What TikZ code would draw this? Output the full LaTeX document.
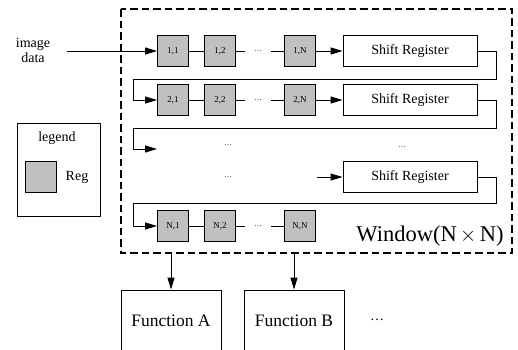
\documentclass[tikz,border=0pt]{standalone}
\usepackage{fontspec}
\setmainfont{Liberation Serif}
\usetikzlibrary{arrows.meta}
\definecolor{regfill}{RGB}{192,192,192}
\begin{document}
\begin{tikzpicture}[x=1pt,y=-1pt, line width=0.9pt,
 reg/.style={draw, fill=regfill, minimum size=31pt, inner sep=0pt, font=\fontsize{9}{10}\selectfont},
 srbox/.style={draw, minimum width=134pt, minimum height=31pt, inner sep=0pt, font=\fontsize{14}{16}\selectfont},
 fbox/.style={draw, minimum width=100pt, minimum height=62pt, inner sep=0pt, font=\fontsize{17.5}{19}\selectfont},
 arr/.style={-{Triangle[length=12pt,width=7pt]}},
 dotsn/.style={minimum width=26pt, inner sep=0pt, font=\fontsize{8}{8}\selectfont},
 lbl/.style={inner sep=0pt, font=\fontsize{14}{15}\selectfont}]
\useasboundingbox (0,0) rectangle (518,349);
\clip (0,0) rectangle (518,349);
% window
\draw[dash pattern=on 7.5pt off 4pt, line width=1.2pt] (121,9) rectangle (512,253);
\node[lbl, font=\fontsize{22.5}{24}\selectfont] (win) at (430,236) {Window(N$\,\times\,$N)};
% input
\node[lbl, align=center] (img) at (33,50) {image\\data};
\coordinate (imgout) at (67,51);
% row 1
\node[reg] (r11) at (173,51) {1,1};
\node[reg] (r12) at (220,51) {1,2};
\node[dotsn] (d1) at (258,51) {\ldots};
\node[reg] (r1n) at (300,51) {1,N};
\node[srbox] (sr1) at (410,51) {Shift Register};
% row 2
\node[reg] (r21) at (173,100) {2,1};
\node[reg] (r22) at (220,100) {2,2};
\node[dotsn] (d2) at (258,100) {\ldots};
\node[reg] (r2n) at (300,100) {2,N};
\node[srbox] (sr2) at (410,100) {Shift Register};
% row 3
\coordinate (c3) at (157,149);
\node[dotsn] (d3a) at (228,145) {\ldots};
\node[dotsn] (d3b) at (402,147) {\ldots};
\node[dotsn] (d3c) at (228,177) {\ldots};
\coordinate (c3in) at (317,177);
\node[srbox] (sr3) at (410,177) {Shift Register};
% row N
\node[reg] (rn1) at (173,226) {N,1};
\node[reg] (rn2) at (220,226) {N,2};
\node[dotsn] (dn) at (258,226) {\ldots};
\node[reg] (rnn) at (300,226) {N,N};
% connections
\draw[arr] (imgout) -- (r11);
\draw (r11) -- (r12) -- (d1) -- (r1n);
\draw[arr] (r1n) -- (sr1);
\draw[arr] (sr1.east) -- ++(19,0) |- (133,79) |- (r21.west);
\draw (r21) -- (r22) -- (d2) -- (r2n);
\draw[arr] (r2n) -- (sr2);
\draw[arr] (sr2.east) -- ++(19,0) |- (133,128) |- (c3);
\draw[arr] (c3in) -- (sr3);
\draw[arr] (sr3.east) -- ++(19,0) |- (133,203) |- (rn1.west);
\draw (rn1) -- (rn2) -- (dn) -- (rnn);
% legend
\node[draw, minimum width=83pt, minimum height=93pt, inner sep=0pt] (leg) at (58.5,169.5) {};
\node[lbl] (legt) at (57,138) {legend};
\node[reg] (legr) at (40.5,177) {};
\node[lbl] (legrt) at (77,177) {Reg};
% functions
\coordinate (oa) at (171,253);
\coordinate (ob) at (294,253);
\node[fbox] (fa) at (171,321) {Function A};
\node[fbox] (fb) at (294,321) {Function B};
\node[lbl] (fd) at (377,320) {\ldots};
\draw[arr] (oa) -- (fa.north);
\draw[arr] (ob) -- (fb.north);
\end{tikzpicture}
\end{document}
